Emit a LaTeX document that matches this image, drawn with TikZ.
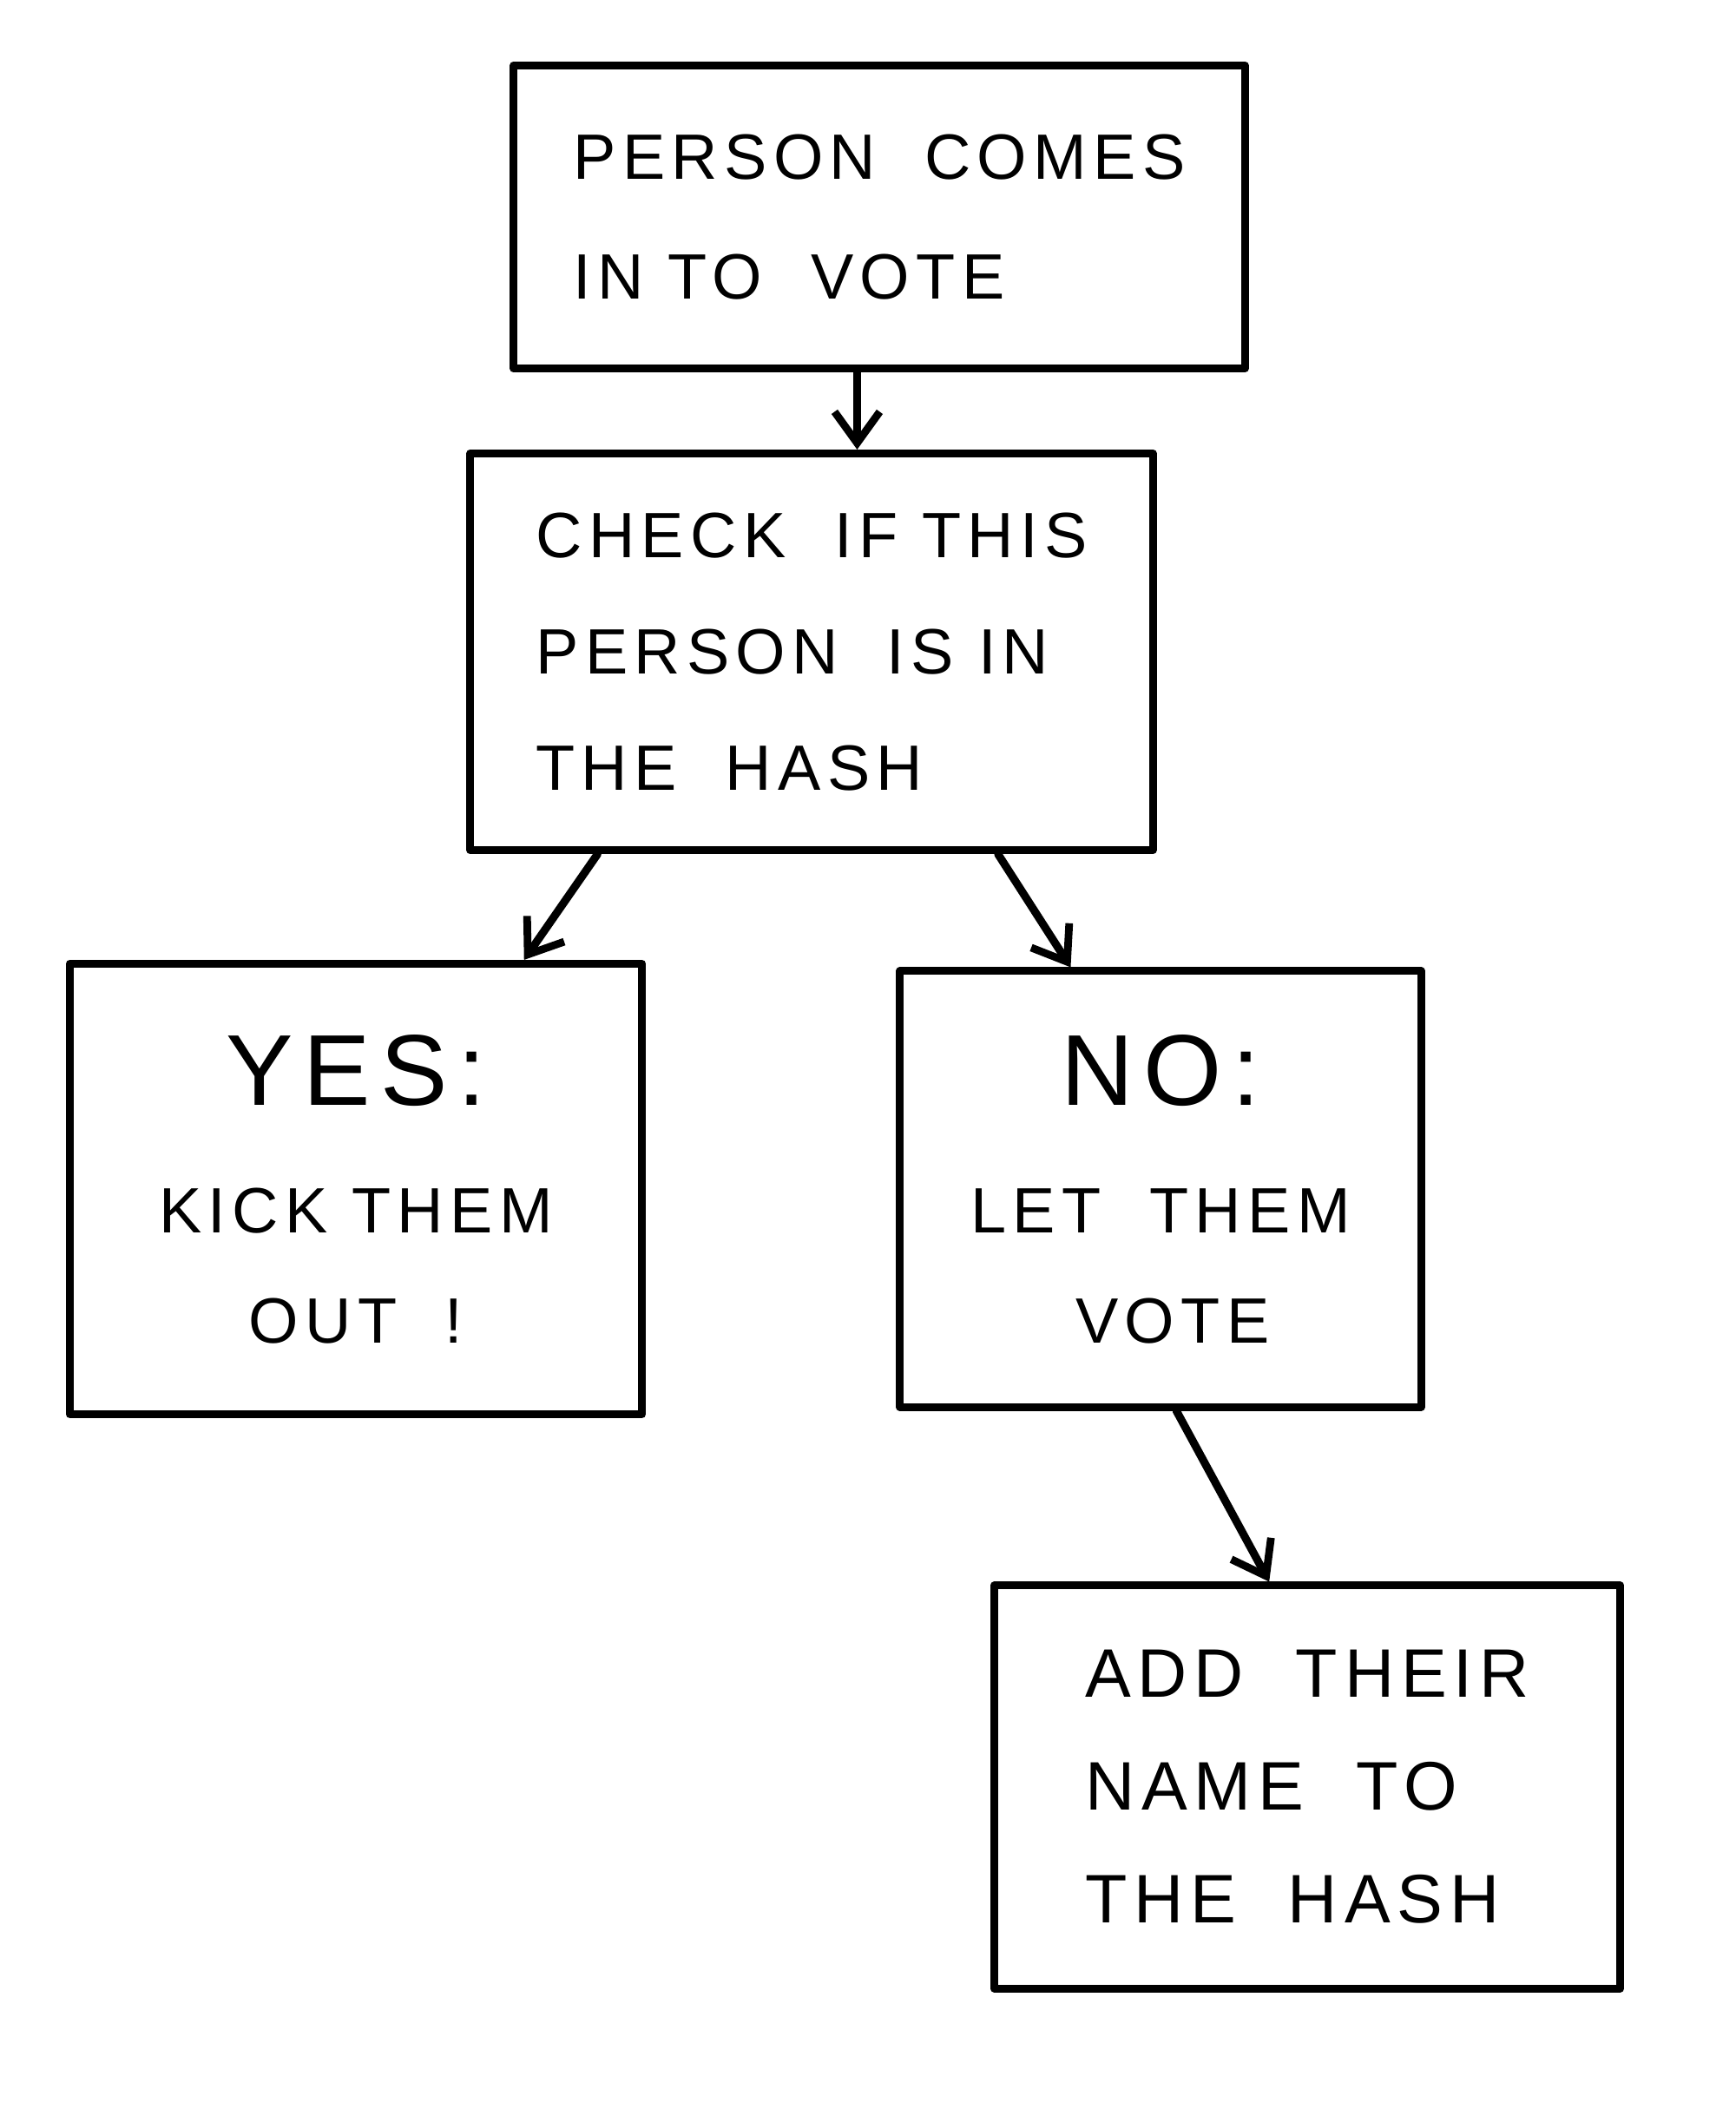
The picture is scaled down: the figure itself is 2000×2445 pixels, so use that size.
\documentclass[tikz,border=0pt]{standalone}
\usepackage{fontspec}
\setmainfont{Liberation Sans}[LetterSpace=10]
\usetikzlibrary{positioning, arrows.meta, calc}
\tikzset{
  stepbox/.style={
    draw=black, line width=2.5pt,
    line join=round,
    inner sep=0pt,
    text=black,
    align=left,
    minimum width=#1
  },
  stepbox/.default=6cm,
  flow/.style={
    -{Straight Barb[length=3.6mm,width=5.2mm,line width=2.5pt]},
    line width=2.6pt,
    line cap=round,
    draw=black
  },
  handtext/.style={font=\fontsize{21}{39}\selectfont}
}
\newcommand{\bigword}[1]{{\fontsize{33}{40}\selectfont #1}}

\begin{document}
\begin{tikzpicture}[x=0.01cm, y=-0.01cm]
  \useasboundingbox[fill=white] (0,0) rectangle (2000,2445);

  % boxes
  \node[stepbox=8.42cm, minimum height=3.49cm, handtext] (comes) at (1013,250)
    {PERSON\ \ COMES\\IN TO\ \ VOTE};
  \node[stepbox=7.86cm, minimum height=4.57cm, font=\fontsize{21}{38}\selectfont] (check) at (935,751)
    {CHECK\ \ IF THIS\\PERSON\ \ IS IN\\THE\ \ HASH};
  \node[stepbox=6.59cm, minimum height=5.19cm, align=center, font=\fontsize{21}{36}\selectfont] (yes) at (410,1370)
    {\bigword{YES:}\\[6pt]KICK THEM\\OUT\ \ !};
  \node[stepbox=6.00cm, minimum height=5.02cm, align=center, font=\fontsize{21}{36}\selectfont] (no) at (1337,1370)
    {\bigword{NO:}\\[6pt]LET\ \ THEM\\\ VOTE};
  \node[stepbox=7.21cm, minimum height=4.64cm, font=\fontsize{22.5}{37}\selectfont] (add) at (1506,2059)
    {ADD\ \ THEIR\\NAME\ \ TO\\THE\ \ HASH};

  % arrow ends
  \coordinate (c1) at ($(comes.south west)!0.47!(comes.south east)$);
  \coordinate (c2) at ($(check.south west)!0.19!(check.south east)$);
  \coordinate (c3) at ($(yes.north west)!0.79!(yes.north east)$);
  \coordinate (c4) at ($(check.south west)!0.77!(check.south east)$);
  \coordinate (c5) at ($(no.north west)!0.33!(no.north east)$);
  \coordinate (c6) at ($(no.south west)!0.53!(no.south east)$);
  \coordinate (c7) at ($(add.north west)!0.44!(add.north east)$);

  \draw[flow] (c1) -- (c1 |- check.north);
  \draw[flow] (c2) -- (c3);
  \draw[flow] (c4) -- (c5);
  \draw[flow] (c6) -- (c7);
\end{tikzpicture}
\end{document}
